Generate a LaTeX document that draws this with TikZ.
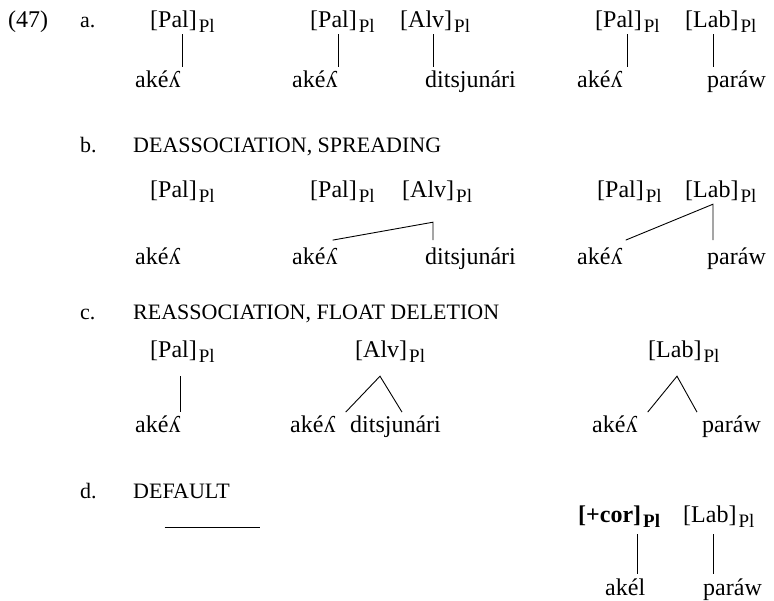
\documentclass[tikz,border=0pt]{standalone}
\usepackage{fontspec}
\setmainfont{Liberation Serif}
\usepackage{tikz}
\usetikzlibrary{positioning}

\newcommand{\pl}{\kern2pt\raisebox{-5pt}{\fontsize{19}{21}\selectfont Pl}}
\newcommand{\plb}{\kern2pt\raisebox{-5pt}{\fontsize{19}{21}\selectfont\bfseries Pl}}

\begin{document}
\begin{tikzpicture}[x=1pt, y=-1pt,
      feat/.style={anchor=base west, inner xsep=0pt, inner ysep=1pt,
                   font=\fontsize{24}{28}\selectfont},
      seg/.style={anchor=base west, inner xsep=0pt, inner ysep=4pt,
                  font=\fontsize{24}{28}\selectfont},
      hd/.style={anchor=base west, inner sep=0pt,
                 font=\fontsize{22}{26}\selectfont},
      assoc/.style={line width=0.9pt}
    ]
      \useasboundingbox (0,0) rectangle (774,601);

      % a.
      \node[hd, font=\fontsize{24}{28}\selectfont] (ex) at (8, 28) {(47)};
      \node[hd] (la)  at (80, 28) {a.};
      \node[feat] (fa1) at (150, 28) {[Pal]\pl};
      \node[feat] (fa2) at (310, 28) {[Pal]\pl};
      \node[feat] (fa3) at (400, 28) {[Alv]\pl};
      \node[feat] (fa4) at (595, 28) {[Pal]\pl};
      \node[feat] (fa5) at (685, 28) {[Lab]\pl};
      \node[seg] (wa1) at (135, 88) {akéʎ};
      \node[seg] (wa2) at (292, 88) {akéʎ};
      \node[seg] (wa3) at (425, 88) {ditsjunári};
      \node[seg] (wa4) at (577, 88) {akéʎ};
      \node[seg] (wa5) at (707, 88) {paráw};
      \draw[assoc] ([xshift=32pt]fa1.south west) -- ([xshift=32pt]fa1.south west |- wa1.north);
      \draw[assoc] ([xshift=28pt]fa2.south west) -- ([xshift=28pt]fa2.south west |- wa2.north);
      \draw[assoc] ([xshift=33pt]fa3.south west) -- ([xshift=33pt]fa3.south west |- wa3.north);
      \draw[assoc] ([xshift=32pt]fa4.south west) -- ([xshift=32pt]fa4.south west |- wa4.north);
      \draw[assoc] ([xshift=28pt]fa5.south west) -- ([xshift=28pt]fa5.south west |- wa5.north);

      % b.
      \node[hd] (lb)  at (80, 153)  {b.};
      \node[hd] (tb)  at (133, 153) {DEASSOCIATION, SPREADING};
      \node[feat] (fb1) at (150, 198) {[Pal]\pl};
      \node[feat] (fb2) at (310, 198) {[Pal]\pl};
      \node[feat] (fb3) at (402, 198) {[Alv]\pl};
      \node[feat] (fb4) at (597, 198) {[Pal]\pl};
      \node[feat] (fb5) at (685, 198) {[Lab]\pl};
      \node[seg] (wb1) at (135, 265) {akéʎ};
      \node[seg] (wb2) at (292, 265) {akéʎ};
      \node[seg] (wb3) at (425, 265) {ditsjunári};
      \node[seg] (wb4) at (577, 265) {akéʎ};
      \node[seg] (wb5) at (707, 265) {paráw};
      \draw[assoc] ([xshift=-5pt,yshift=4pt]wb2.north east) -- ([xshift=31pt,yshift=-18pt]fb3.south west)
                   -- ([xshift=31pt,yshift=4pt]fb3.south west |- wb3.north);
      \draw[assoc] ([xshift=3pt,yshift=4pt]wb4.north east) -- ([xshift=28pt]fb5.south west)
                   -- ([xshift=28pt,yshift=4pt]fb5.south west |- wb5.north);

      % c.
      \node[hd] (lc)  at (80, 320)  {c.};
      \node[hd] (tc)  at (133, 320) {REASSOCIATION, FLOAT DELETION};
      \node[feat] (fc1) at (150, 358) {[Pal]\pl};
      \node[feat] (fc2) at (355, 358) {[Alv]\pl};
      \node[feat] (fc3) at (648, 358) {[Lab]\pl};
      \node[seg] (wc1) at (135, 433) {akéʎ};
      \node[seg] (wc2) at (290, 433) {akéʎ};
      \node[seg] (wc3) at (350, 433) {ditsjunári};
      \node[seg] (wc4) at (592, 433) {akéʎ};
      \node[seg] (wc5) at (702, 433) {paráw};
      \draw[assoc] ([xshift=30pt,yshift=-12pt]fc1.south west) -- ([xshift=30pt]fc1.south west |- wc1.north);
      \draw[assoc] ([xshift=10pt]wc2.north east) -- ([xshift=25pt,yshift=-12pt]fc2.south west)
                   -- ([xshift=52pt]wc3.north west);
      \draw[assoc] ([xshift=10pt]wc4.north east) -- ([xshift=29pt,yshift=-12pt]fc3.south west)
                   -- ([xshift=-5pt]wc5.north west);

      % d.
      \node[hd] (ld)  at (80, 498)  {d.};
      \node[hd] (td)  at (133, 498) {DEFAULT};
      \node[inner sep=0pt] (blank) at (212, 527) {\rule{95pt}{0.9pt}};
      \node[feat] (fd1) at (578, 522) {\textbf{[+cor]}\plb};
      \node[feat] (fd2) at (683, 522) {[Lab]\pl};
      \node[seg] (wd1) at (605, 595) {akél};
      \node[seg] (wd2) at (703, 595) {paráw};
      \draw[assoc] ([xshift=59pt,yshift=-6pt]fd1.south west) -- ([xshift=59pt]fd1.south west |- wd1.north);
      \draw[assoc] ([xshift=30pt,yshift=-6pt]fd2.south west) -- ([xshift=30pt]fd2.south west |- wd2.north);
    \end{tikzpicture}
\end{document}
